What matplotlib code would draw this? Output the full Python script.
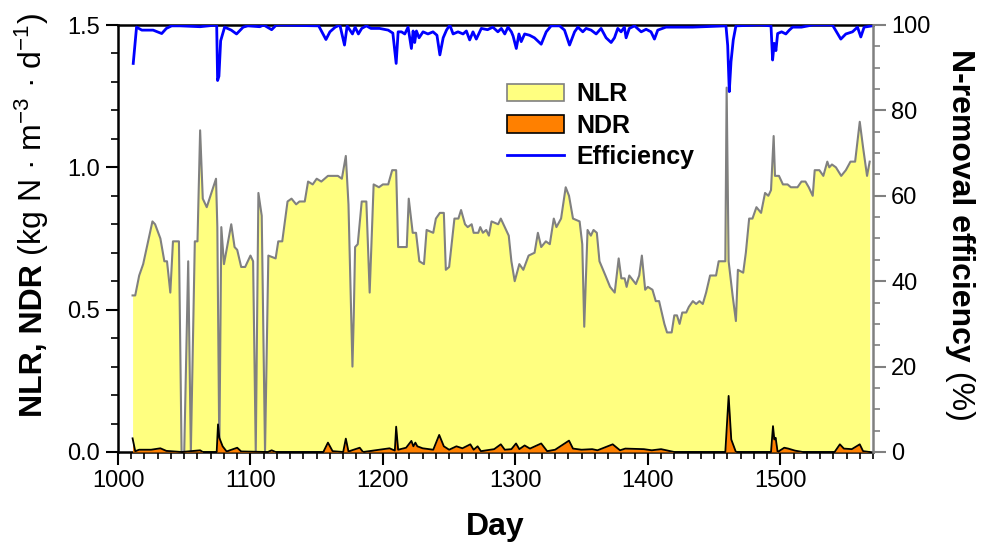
import matplotlib
matplotlib.use("Agg")
import matplotlib.pyplot as plt
from matplotlib.patches import Patch
from matplotlib.lines import Line2D
from matplotlib.ticker import MultipleLocator, FormatStrFormatter

plt.rcParams['font.family'] = ['Liberation Sans', 'DejaVu Sans']
plt.rcParams['mathtext.fontset'] = 'custom'
plt.rcParams['mathtext.rm'] = 'Liberation Sans'
plt.rcParams['mathtext.it'] = 'Liberation Sans:italic'
plt.rcParams['mathtext.bf'] = 'Liberation Sans:bold'

# nitrogen loading rate (kg N / m3 / d)
nlr_day = [1011, 1013, 1016, 1019, 1026, 1028, 1032, 1035, 1037, 1039.5, 1041.5, 1046, 1048, 1050,
           1053, 1055, 1058, 1060, 1062, 1064, 1067, 1074, 1075, 1076.5, 1078, 1080, 1085.5, 1088,
           1090, 1093, 1096, 1100, 1102, 1104, 1106, 1108.5, 1111, 1113.5, 1119, 1121, 1124, 1128,
           1131, 1134.5, 1137, 1141, 1143.5, 1147, 1150, 1153.5, 1158.5, 1162, 1166, 1169, 1172,
           1174, 1177, 1178, 1179, 1181, 1184, 1187.5, 1190, 1193, 1197, 1200, 1204, 1207, 1210,
           1211.5, 1215, 1218, 1219.5, 1222.5, 1225, 1227.5, 1231, 1233, 1238, 1240, 1243, 1246,
           1247.5, 1250, 1254, 1257, 1259, 1262, 1264, 1267, 1268.5, 1272, 1273.5, 1275.5, 1278,
           1280, 1282, 1287, 1289, 1293, 1295, 1297, 1299.5, 1303, 1306, 1310, 1314.5, 1317,
           1319.5, 1323, 1326, 1329, 1331, 1334.5, 1338, 1340.5, 1343.5, 1348.5, 1350.5, 1352,
           1354.5, 1357, 1359, 1361.5, 1363.5, 1368, 1371.5, 1375, 1378, 1380, 1382.5, 1384, 1386,
           1391, 1393.5, 1395.5, 1398, 1400, 1403.5, 1406, 1408.5, 1412.5, 1414.5, 1418, 1420,
           1422, 1424, 1426, 1429, 1431, 1434, 1436.5, 1439, 1441.5, 1444, 1447, 1449, 1451.5,
           1453.5, 1458.5, 1459.5, 1461, 1464, 1466.5, 1468, 1472, 1474, 1476.5, 1479, 1482,
           1485.5, 1488.5, 1491, 1493, 1495, 1496, 1499, 1502, 1505.5, 1508, 1513, 1516, 1519,
           1521.5, 1524.5, 1526, 1529.5, 1532.5, 1535.5, 1537, 1539, 1542, 1546, 1549.5, 1553,
           1556.5, 1560, 1562.5, 1565.5, 1567.5]
nlr = [0.55, 0.55, 0.62, 0.66, 0.81, 0.80, 0.75, 0.67, 0.67, 0.56, 0.74, 0.74, 0.0, 0.0,
       0.67, 0.0, 0.74, 0.74, 1.13, 0.89, 0.86, 0.96, 0.79, 0.0, 0.79, 0.66, 0.80, 0.72,
       0.71, 0.65, 0.65, 0.69, 0.67, 0.0, 0.91, 0.83, 0.0, 0.69, 0.68, 0.74, 0.74, 0.88,
       0.89, 0.87, 0.88, 0.88, 0.95, 0.94, 0.96, 0.95, 0.97, 0.97, 0.97, 0.96, 1.04,
       0.87, 0.30, 0.48, 0.72, 0.73, 0.88, 0.88, 0.56, 0.94, 0.93, 0.94, 0.94, 0.99, 0.99,
       0.72, 0.72, 0.72, 0.89, 0.77, 0.77, 0.67, 0.66, 0.78, 0.77, 0.82, 0.84, 0.84,
       0.64, 0.65, 0.82, 0.82, 0.85, 0.80, 0.79, 0.80, 0.77, 0.77, 0.79, 0.77, 0.78,
       0.76, 0.81, 0.80, 0.82, 0.78, 0.76, 0.67, 0.60, 0.66, 0.64, 0.69, 0.70, 0.77,
       0.72, 0.74, 0.73, 0.82, 0.79, 0.82, 0.93, 0.90, 0.82, 0.81, 0.73, 0.44,
       0.78, 0.76, 0.78, 0.77, 0.67, 0.62, 0.58, 0.56, 0.68, 0.61, 0.61, 0.58, 0.62,
       0.59, 0.62, 0.69, 0.57, 0.58, 0.57, 0.53, 0.53, 0.45, 0.42, 0.42, 0.48,
       0.48, 0.45, 0.49, 0.49, 0.51, 0.53, 0.52, 0.53, 0.52, 0.56, 0.62, 0.62, 0.62,
       0.67, 0.67, 1.28, 0.67, 0.55, 0.46, 0.64, 0.63, 0.70, 0.82, 0.82, 0.86,
       0.84, 0.91, 0.90, 0.92, 1.11, 0.97, 0.97, 0.94, 0.94, 0.93, 0.93, 0.95, 0.95,
       0.93, 0.90, 0.99, 0.99, 0.97, 1.02, 1.00, 1.01, 1.00, 0.97, 0.99, 1.02,
       1.02, 1.16, 1.07, 0.97, 1.02]

# nitrogen removal (denitrification) rate
ndr_day = [1011, 1013, 1016, 1025, 1032, 1036.5, 1048, 1062, 1064, 1074.5, 1075.5, 1076.5, 1079,
           1082, 1090, 1093, 1113, 1116, 1119, 1155, 1158.5, 1162, 1170, 1172, 1174, 1182.5, 1185,
           1205, 1209, 1210, 1211.5, 1217.5, 1221.5, 1223, 1224.5, 1226, 1230, 1238, 1242.5, 1246,
           1250, 1255.5, 1260, 1266, 1268.5, 1271.5, 1274, 1284, 1289, 1292, 1297, 1300.5, 1303,
           1307, 1311, 1319.5, 1324, 1330, 1340.5, 1343.5, 1350, 1358, 1362, 1373.5, 1379, 1383,
           1397, 1403, 1410, 1420, 1458.5, 1461, 1463, 1466.5, 1493, 1494.5, 1495.5, 1496.5, 1498,
           1503, 1506, 1511, 1517, 1541, 1545, 1548, 1554, 1560, 1562.5, 1567.5]
ndr = [0.048, 0.003, 0.008, 0.008, 0.013, 0.004, 0.0, 0.006, 0.0, 0.0, 0.097, 0.05, 0.02,
       0.002, 0.015, 0.002, 0.0, 0.006, 0.0, 0.0, 0.033, 0.003, 0.0, 0.047, 0.002, 0.015, 0.0,
       0.013, 0.005, 0.089, 0.008, 0.015, 0.039, 0.02, 0.033, 0.02, 0.013, 0.008, 0.06, 0.02,
       0.008, 0.02, 0.013, 0.027, 0.008, 0.02, 0.003, 0.01, 0.027, 0.008, 0.01, 0.03, 0.01,
       0.023, 0.012, 0.03, 0.003, 0.008, 0.04, 0.012, 0.008, 0.01, 0.006, 0.027, 0.006, 0.012,
       0.01, 0.006, 0.01, 0.0, 0.0, 0.197, 0.044, 0.0, 0.0, 0.091, 0.044, 0.05, 0.0,
       0.015, 0.012, 0.005, 0.0, 0.0, 0.027, 0.012, 0.01, 0.027, 0.003, 0.0]

# N-removal efficiency (%)
eff_day = [1011.5, 1014, 1018, 1026.5, 1033, 1036.5, 1040.5, 1047, 1062, 1074.5, 1075.2, 1076.2,
           1077.5, 1080.5, 1085.5, 1089.5, 1094.5, 1098, 1107, 1110, 1116, 1119.5, 1151.5,
           1157, 1160, 1164, 1167.5, 1171, 1173, 1177, 1179, 1181.5, 1184, 1187.5, 1191, 1197.5,
           1204, 1207.5, 1210, 1211.5, 1214, 1216.5, 1219, 1221.5, 1222.8, 1224, 1225.3, 1227.3,
           1230.3, 1234, 1237.8, 1240.8, 1243, 1245.5, 1248, 1250.5, 1253, 1256.7, 1260.5, 1263,
           1265.5, 1268, 1270.5, 1274.3, 1279, 1283, 1286.8, 1289.4, 1292, 1294.4, 1297, 1298.3,
           1300.7, 1302.7, 1304.4, 1307, 1310.7, 1314.4, 1319.5, 1323.3, 1327, 1333.4, 1337.1,
           1340.9, 1344.7, 1347.2, 1350.9, 1353.4, 1357.2, 1361, 1364.7, 1368.5, 1372.3, 1374.8,
           1377.3, 1379.8, 1382.3, 1383.6, 1386, 1390, 1395, 1398.7, 1402.4, 1405, 1407.5, 1413.7,
           1433.8, 1459, 1460.3, 1461.5, 1462.8, 1464.5, 1466.5, 1484, 1493, 1494.2, 1495.4,
           1496.7, 1498, 1501, 1504.2, 1506.8, 1509.3, 1516, 1524.4, 1539.4, 1545.7, 1549.5,
           1554.5, 1558.3, 1560.8, 1563.3, 1569.5]
eff = [91, 99.5, 98.8, 98.8, 98.0, 99.2, 99.8, 99.8, 99.6, 100, 87, 88,
       96.3, 99.5, 98.8, 97.9, 99.5, 99.8, 99.6, 100, 98.9, 100, 99.8,
       96.6, 98.4, 99.5, 100, 95.3, 99.8, 97.9, 99.5, 97.9, 99.2, 99.8, 99.2, 99.2,
       98.8, 98.1, 91.0, 98.4, 98.4, 97.9, 99.5, 94.5, 98.6, 95.9, 98.6, 97.0,
       98.4, 97.9, 98.4, 97.6, 93.0, 97.0, 98.8, 100, 97.9, 98.4, 97.9, 98.6,
       96.5, 98.4, 96.7, 99.2, 98.9, 99.5, 98.4, 99.2, 97.9, 99.5, 98.4, 97.4,
       94.5, 97.9, 96.1, 97.9, 97.6, 97.0, 95.5, 98.4, 99.8, 99.8, 98.8,
       95.3, 98.4, 99.5, 98.4, 99.2, 98.8, 97.9, 99.2, 97.0, 95.9, 97.0,
       99.2, 98.4, 99.5, 97.0, 99.2, 99.8, 98.4, 99.0, 98.4, 96.7, 98.8, 99.5,
       99.5, 99.8, 95.2, 84.4, 91.4, 96.5, 99.8, 100, 99.8, 91.8, 95.7,
       94.0, 98.0, 98.4, 97.9, 98.8, 99.5, 99.5, 100, 100, 96.7, 97.9,
       98.4, 99.5, 97.2, 99.5, 99.8]

fig = plt.figure(figsize=(9.85, 5.47), dpi=100)
ax = fig.add_axes([118 / 985, 1 - 452 / 547, 755 / 985, 427 / 547])

ax.fill_between(nlr_day, nlr, 0, color='#FFFF80', linewidth=0, zorder=1)
ax.plot(nlr_day, nlr, color='#808080', lw=1.5, zorder=2)
ax.fill_between(ndr_day, ndr, 0, color='#FF8000', linewidth=0, zorder=3)
ax.plot(ndr_day, ndr, color='black', lw=1.3, zorder=4)

ax.set_xlim(1000, 1570)
ax.set_ylim(0, 1.5)
ax.xaxis.set_major_locator(MultipleLocator(100))
ax.xaxis.set_minor_locator(MultipleLocator(10))
ax.yaxis.set_major_locator(MultipleLocator(0.5))
ax.yaxis.set_minor_locator(MultipleLocator(0.1))
ax.yaxis.set_major_formatter(FormatStrFormatter('%.1f'))
ax.tick_params(which='major', direction='out', length=9, width=1.5, labelsize=17, pad=4)
ax.tick_params(which='minor', direction='out', length=5, width=1.2)
ax.tick_params(axis='y', which='both', right=False)
ax.spines['right'].set_visible(False)
for s in ['left', 'top', 'bottom']:
    ax.spines[s].set_linewidth(1.8)
ax.set_xlabel('Day', fontsize=23, fontweight='bold', labelpad=14)

ax2 = ax.twinx()
ax2.plot(eff_day, eff, color='#0000FF', lw=2)
ax2.set_ylim(0, 100)
ax2.yaxis.set_major_locator(MultipleLocator(20))
ax2.yaxis.set_minor_locator(MultipleLocator(5))
ax2.tick_params(which='major', direction='out', length=9, width=1.5, labelsize=17, pad=4,
                color='#808080')
ax2.tick_params(which='minor', direction='out', length=5, width=1.2, color='#808080')
for s in ['left', 'top', 'bottom']:
    ax2.spines[s].set_visible(False)
ax2.spines['right'].set_color('#808080')
ax2.spines['right'].set_linewidth(1.8)

handles = [Patch(facecolor='#FFFF80', edgecolor='#808080', lw=1.2),
           Patch(facecolor='#FF8000', edgecolor='black', lw=1.2),
           Line2D([], [], color='#0000FF', lw=2)]
ax2.legend(handles, ['NLR', 'NDR', 'Efficiency'], loc='upper left',
           bbox_to_anchor=(0.515, 0.866), frameon=False, borderpad=0, borderaxespad=0,
           prop={'weight': 'bold', 'size': 18}, handlelength=2.3, handletextpad=0.5,
           labelspacing=0.3)


# axis titles: bold name followed by regular units
def split_label(x, yc, bold, regular, rot, size):
    t1 = fig.text(x, yc, bold, fontsize=size, fontweight='bold', rotation=rot,
                  rotation_mode='anchor', ha='left', va='baseline')
    t2 = fig.text(x, yc, regular, fontsize=size, rotation=rot,
                  rotation_mode='anchor', ha='left', va='baseline')
    fig.canvas.draw()
    r = fig.canvas.get_renderer()
    h1 = t1.get_window_extent(r).height
    h2 = t2.get_window_extent(r).height
    H = fig.bbox.height
    if rot == 90:
        start = yc * H - (h1 + h2) / 2
        t1.set_y(start / H)
        t2.set_y((start + h1) / H)
    else:
        start = yc * H + (h1 + h2) / 2
        t1.set_y(start / H)
        t2.set_y((start - h1) / H)


split_label(42 / 985, 1 - 215 / 547, 'NLR, NDR', ' (kg N · m$^{-3}$ · d$^{-1}$)', 90, 23)
split_label(952 / 985, 1 - 235 / 547, 'N-removal efficiency', ' (%)', 270, 23)

fig.savefig('out.png', dpi=100)
